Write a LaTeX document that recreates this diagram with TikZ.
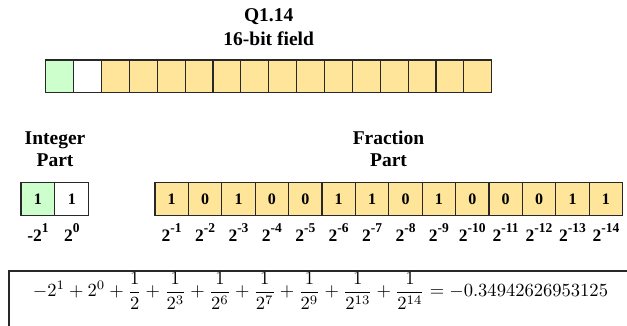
\documentclass[tikz,border=0pt]{standalone}
\usepackage{fontspec}
\setmainfont{Liberation Serif}

\definecolor{intgreen}{RGB}{204,255,204}
\definecolor{fracyellow}{RGB}{255,229,153}
\definecolor{cellline}{RGB}{40,40,40}

% superscript used in the bit-weight labels
\newcommand{\expo}[1]{\raisebox{9pt}{\fontsize{13.5}{14}\selectfont\bfseries#1}}

\begin{document}
\begin{tikzpicture}[x=1pt,y=-1pt,
  heading/.style={font=\fontsize{19.5}{22}\selectfont\bfseries, inner sep=0pt, anchor=base},
  barcell/.style={draw=cellline, line width=1.1pt, inner sep=0pt,
    minimum width=27.875pt, minimum height=32.7pt},
  bitcell/.style={draw=cellline, line width=1.1pt, inner sep=0pt,
    minimum width=33.4pt, minimum height=33.4pt,
    font=\fontsize{16}{16}\selectfont\bfseries},
  intcell/.style={bitcell, minimum width=33.85pt},
  weight/.style={font=\fontsize{17.5}{18}\selectfont\bfseries, inner sep=0pt, anchor=base}]

\useasboundingbox (0,0) rectangle (627,325);

% title
\node[heading] (qtitle) at (268.7,21.7) {Q1.14};
\node[heading] (qsub) at (268.7,45) {16-bit field};

% 16-bit field
\node[barcell, fill=intgreen] (bar0) at ({45.7+27.875*0.5},76.35) {};
\node[barcell, fill=white] (bar1) at ({45.7+27.875*1.5},76.35) {};
\foreach \i in {2,...,15}
  \node[barcell, fill=fracyellow] (bar\i) at ({45.7+27.875*(\i+0.5)},76.35) {};

% part headings
\node[heading] (inthead) at (55,144) {Integer};
\node[heading] (intpart) at (55,166.7) {Part};
\node[heading] (frachead) at (388.5,144) {Fraction};
\node[heading] (fracpart) at (388.5,166.7) {Part};

% integer bits
\node[intcell, fill=intgreen] (int1) at ({21+33.85*0.5},199) {1};
\node[intcell, fill=white] (int0) at ({21+33.85*1.5},199) {1};
\node[weight] (w1) at ({21+33.85*0.5},241.7) {-2\expo{1}};
\node[weight] (w0) at ({21+33.85*1.5},241.7) {2\expo{0}};

% fraction bits and their weights
\foreach \k/\b in {1/1,2/0,3/1,4/0,5/0,6/1,7/1,8/0,9/1,10/0,11/0,12/0,13/1,14/1} {
  \node[bitcell, fill=fracyellow] (frac\k) at ({155+33.4*(\k-0.5)},199) {\b};
  \node[weight] (fw\k) at ({155+33.4*(\k-0.5)},241.7) {2\expo{-\k}};
}

% value box
\begin{scope}
  \clip (0,0) rectangle (627,325);
  \draw[cellline, line width=1.1pt] (9,345) -- (9,271) -- (650,271);
\end{scope}
\node[inner sep=0pt] (value) at (320.5,291) {\resizebox{575pt}{!}{$\displaystyle
  -2^1+2^0+\frac{1}{2}+\frac{1}{2^3}+\frac{1}{2^6}+\frac{1}{2^7}+\frac{1}{2^9}+\frac{1}{2^{13}}+\frac{1}{2^{14}}=-0.34942626953125$}};

\end{tikzpicture}
\end{document}
